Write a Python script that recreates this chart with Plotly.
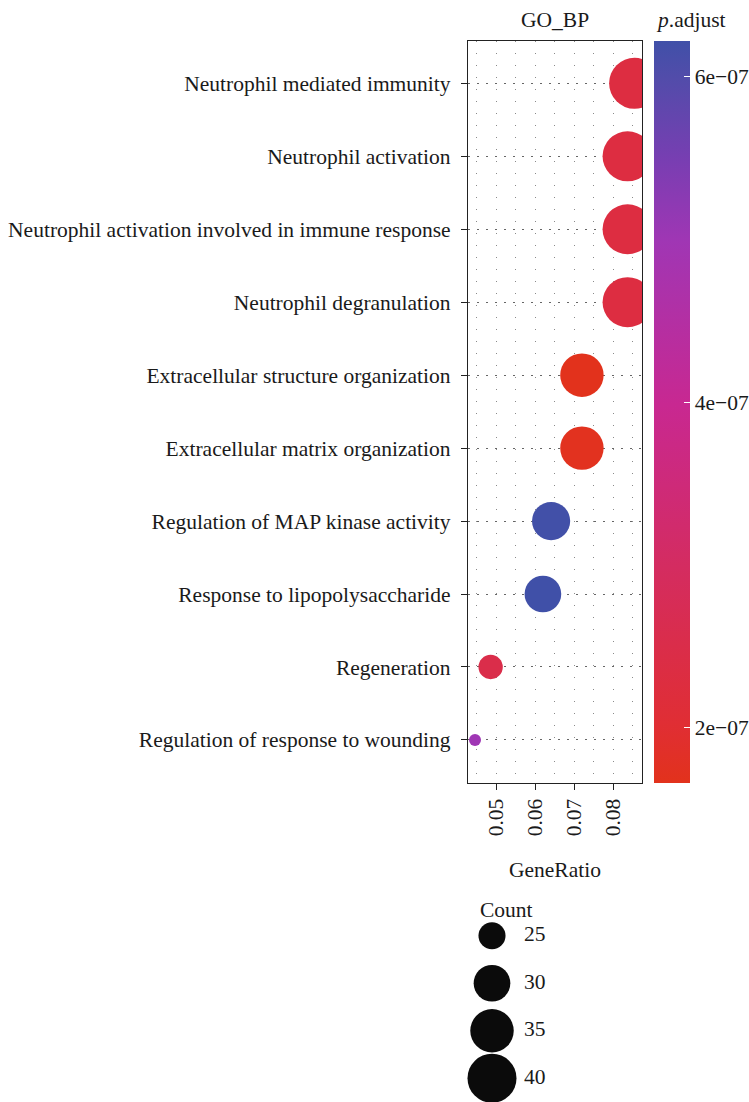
import numpy as np
import plotly.graph_objects as go

# ---------------- data ----------------
terms = [
    "Neutrophil mediated immunity",
    "Neutrophil activation",
    "Neutrophil activation involved in immune response",
    "Neutrophil degranulation",
    "Extracellular structure organization",
    "Extracellular matrix organization",
    "Regulation of MAP kinase activity",
    "Response to lipopolysaccharide",
    "Regeneration",
    "Regulation of response to wounding",
]
gene_ratio = [0.0855, 0.0837, 0.0837, 0.0837, 0.0720, 0.0720, 0.0641, 0.0620, 0.0486, 0.0446]
counts = [42, 41, 41, 41, 35, 35, 31, 30, 24, 22]
p_adjust = [2.3e-07, 2.3e-07, 2.3e-07, 2.3e-07, 1.66e-07, 1.7e-07, 6.2e-07, 6.22e-07, 2.5e-07, 5.0e-07]

x_ticks = [0.05, 0.06, 0.07, 0.08]
cb_ticks = [2e-07, 4e-07, 6e-07]
cb_ticktext = ["2e\u221207", "4e\u221207", "6e\u221207"]
legend_counts = [25, 30, 35, 40]

# ---------------- style ----------------
W, H = 749, 1102
FONT = "Liberation Serif"
FS = 21.5
TXT = "#1a1a1a"
D_MIN, D_MAX = 12, 51
cmin_count, cmax_count = min(counts), max(counts)


def diam(c):
    t = (c - cmin_count) / (cmax_count - cmin_count)
    return D_MIN + np.sqrt(max(t, 0)) * (D_MAX - D_MIN)


colorscale = [
    [0.00, "rgb(226,50,28)"],
    [0.08, "rgb(224,46,52)"],
    [0.29, "rgb(212,44,96)"],
    [0.51, "rgb(200,40,145)"],
    [0.73, "rgb(160,54,180)"],
    [0.84, "rgb(120,62,178)"],
    [0.95, "rgb(82,76,170)"],
    [1.00, "rgb(64,80,168)"],
]

# panel geometry (pixels)
PL, PR, PT, PB = 468, 642, 41, 783


def px(x):
    return x / W


def py(y):
    return 1 - y / H


fig = go.Figure()

fig.add_trace(go.Scatter(
    x=gene_ratio, y=terms, mode="markers",
    marker=dict(
        size=[diam(c) for c in counts], sizemode="diameter",
        color=p_adjust, colorscale=colorscale, showscale=True,
        line=dict(width=0), opacity=1,
        colorbar=dict(
            x=px(654), xanchor="left", y=py(PT), yanchor="top",
            len=PB - PT, lenmode="pixels", thickness=36, thicknessmode="pixels",
            xpad=0, ypad=0, outlinewidth=0,
            tickmode="array", tickvals=cb_ticks, ticktext=cb_ticktext,
            ticks="inside", tickcolor="white", ticklen=6, tickwidth=1,
            tickfont=dict(family=FONT, size=FS, color=TXT),
            title=dict(text=""),
        ),
    ),
    showlegend=False, hoverinfo="x+y",
))

# size legend
fig.add_trace(go.Scatter(
    x=[32] * len(legend_counts), y=[str(c) for c in legend_counts],
    xaxis="x2", yaxis="y2", mode="markers",
    marker=dict(size=[diam(c) for c in legend_counts], sizemode="diameter",
                color="#0b0b0b", line=dict(width=0), opacity=1),
    showlegend=False, hoverinfo="skip", cliponaxis=False,
))
fig.add_trace(go.Scatter(
    x=[64] * len(legend_counts), y=[str(c) for c in legend_counts],
    xaxis="x2", yaxis="y2", mode="text",
    text=[str(c) for c in legend_counts], textposition="middle right",
    textfont=dict(family=FONT, size=FS, color=TXT),
    showlegend=False, hoverinfo="skip", cliponaxis=False,
))

fig.update_layout(
    template="none",
    width=W, height=H,
    margin=dict(l=0, r=0, t=0, b=0, autoexpand=False),
    paper_bgcolor="white", plot_bgcolor="white",
    font=dict(family=FONT, size=FS, color=TXT),
    xaxis=dict(
        domain=[px(PL), px(PR)], anchor="y", range=[0.0428, 0.0874],
        tickmode="array", tickvals=x_ticks, tickangle=-90,
        ticks="outside", ticklen=6, tickwidth=1.2, tickcolor="#222",
        tickfont=dict(family=FONT, size=FS, color=TXT),
        showgrid=True, gridcolor="#8a8a8a", gridwidth=1, griddash="1px,11px",
        minor=dict(tick0=0.045, dtick=0.01, showgrid=True, gridcolor="#8a8a8a",
                   gridwidth=1, griddash="1px,11px", ticks=""),
        showline=True, mirror=True, linecolor="#222", linewidth=1.3,
        zeroline=False, automargin=False, fixedrange=True,
    ),
    yaxis=dict(
        domain=[py(PB), py(PT)], anchor="x",
        type="category", categoryorder="array", categoryarray=terms,
        range=[9.59, -0.58],
        ticks="outside", ticklen=6, tickwidth=1.2, tickcolor="#222",
        ticklabelstandoff=6,
        tickfont=dict(family=FONT, size=FS, color=TXT),
        showgrid=True, gridcolor="#666", gridwidth=1, griddash="2px,7px",
        showline=True, mirror=True, linecolor="#222", linewidth=1.3,
        zeroline=False, automargin=False, fixedrange=True,
    ),
    xaxis2=dict(domain=[px(460), px(600)], anchor="y2", range=[0, 140],
                visible=False, fixedrange=True),
    yaxis2=dict(domain=[0, py(912)], anchor="x2", type="category",
                categoryorder="array", categoryarray=[str(c) for c in legend_counts],
                range=[3.5, -0.5], visible=False, fixedrange=True),
    annotations=[
        dict(text="GO_BP", x=px(555), y=py(20), xref="paper", yref="paper",
             xanchor="center", yanchor="middle", showarrow=False,
             font=dict(family=FONT, size=FS, color=TXT)),
        dict(text="<i>p</i>.adjust", x=px(654), y=py(20), xref="paper", yref="paper",
             xanchor="left", yanchor="middle", showarrow=False,
             font=dict(family=FONT, size=FS, color=TXT)),
        dict(text="GeneRatio", x=px(555), y=py(870), xref="paper", yref="paper",
             xanchor="center", yanchor="middle", showarrow=False,
             font=dict(family=FONT, size=FS, color=TXT)),
        dict(text="Count", x=px(478), y=py(910), xref="paper", yref="paper",
             xanchor="left", yanchor="middle", showarrow=False,
             font=dict(family=FONT, size=FS, color=TXT)),
    ],
)

fig.write_html(
    "out.html",
    config={"displayModeBar": False},
    post_script="document.body.style.margin='0';document.body.style.padding='0';",
)
